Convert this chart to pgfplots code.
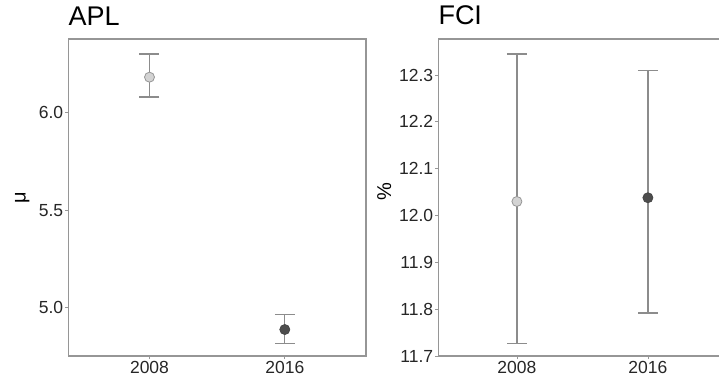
\documentclass[border=0pt]{standalone}
\usepackage{fontspec}
\setmainfont{Liberation Sans}
\usepackage{pgfplots}
\pgfplotsset{compat=1.18}
\definecolor{axgray}{RGB}{150,150,150}
\definecolor{errgray}{RGB}{140,140,140}
\definecolor{lightpt}{RGB}{211,211,211}
\definecolor{lightedge}{RGB}{150,150,150}
\definecolor{darkpt}{RGB}{77,77,77}
\definecolor{darkedge}{RGB}{70,70,70}
\begin{document}
\begin{tikzpicture}[x=1pt,y=1pt]
\path[use as bounding box] (0,0) rectangle (719,384);
\clip (0,0) rectangle (719,384);
\pgfplotsset{
  panel/.style={
    scale only axis, height=317pt,
    axis line style={axgray, line width=1.3pt},
    tick align=outside, tick pos=left, major tick length=3pt,
    tick style={axgray, line width=0.8pt},
    xmin=0.4, xmax=2.6, xtick={1,2}, xticklabels={2008,2016},
    tick label style={font=\fontsize{17.5}{19}\selectfont, text=black!85},
    xticklabel style={inner sep=2pt},
    yticklabel style={inner sep=2pt, /pgf/number format/.cd, fixed, fixed zerofill, precision=1},
    /pgf/number format/assume math mode=true,
    title style={at={(0,1)}, anchor=base west, yshift=8pt, inner sep=0pt, font=\fontsize{27}{30}\selectfont},
    ylabel style={anchor=center, font=\fontsize{20}{22}\selectfont},
    clip=false,
  },
  ebar/.style={draw=none, mark=none, forget plot,
    error bars/.cd, y dir=both, y explicit, error mark=|,
    error bar style={errgray, line width=1.3pt},
    error mark options={errgray, line width=1.3pt, mark size=10pt}},
}
% Left panel: APL
\begin{axis}[panel, at={(68.3pt,28pt)}, anchor=south west, width=297.7pt,
  ymin=4.751, ymax=6.379, ytick={5,5.5,6},
  title={APL}, ylabel={μ},
  ylabel style={at={(axis description cs:-0.155,0.5)}}]
\addplot[ebar] coordinates {(1,6.183) += (0,0.119) -= (0,0.102)};
\addplot[ebar] coordinates {(2,4.887) += (0,0.077) -= (0,0.070)};
\addplot[only marks, mark=*, mark size=5pt, mark options={fill=lightpt, draw=lightedge, line width=0.8pt}] coordinates {(1,6.183)};
\addplot[only marks, mark=*, mark size=5pt, mark options={fill=darkpt, draw=darkedge, line width=0.8pt}] coordinates {(2,4.887)};
\end{axis}
% Right panel: FCI
\begin{axis}[panel, at={(438.3pt,28pt)}, anchor=south west, width=288.2pt,
  ymin=11.7, ymax=12.377, ytick={11.7,11.8,11.9,12.0,12.1,12.2,12.3},
  title={FCI}, ylabel={\%},
  ylabel style={at={(axis description cs:-0.188,0.52)}}]
\addplot[ebar] coordinates {(1,12.030) += (0,0.315) -= (0,0.303)};
\addplot[ebar] coordinates {(2,12.038) += (0,0.271) -= (0,0.246)};
\addplot[only marks, mark=*, mark size=5pt, mark options={fill=lightpt, draw=lightedge, line width=0.8pt}] coordinates {(1,12.030)};
\addplot[only marks, mark=*, mark size=5pt, mark options={fill=darkpt, draw=darkedge, line width=0.8pt}] coordinates {(2,12.038)};
\end{axis}
\end{tikzpicture}
\end{document}
